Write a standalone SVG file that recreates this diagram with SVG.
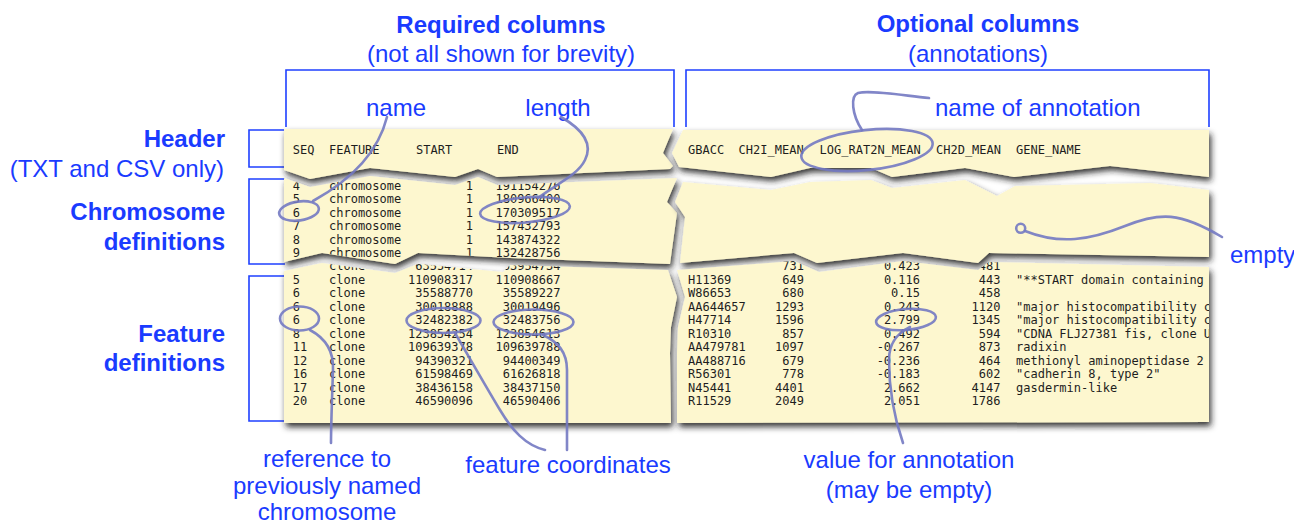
<svg xmlns="http://www.w3.org/2000/svg" xmlns:xlink="http://www.w3.org/1999/xlink" width="1294" height="527" viewBox="0 0 1294 527">
<style>
.lbl{font-family:"Liberation Sans",Arial,sans-serif;font-size:24px;fill:#1a3bff}
.b{font-weight:bold}
.br{fill:none;stroke:#1f40ff;stroke-width:1.6}
.paper{fill:#fdf7cf}
.m{font-family:"DejaVu Sans Mono","Liberation Mono",monospace;font-size:12px;fill:#1e1e1e}
.e{text-anchor:end}
.con{fill:none;stroke:#7379c2;stroke-width:2.6;stroke-linecap:round;stroke-opacity:0.9}
</style>
<defs>
<filter id="sh" x="-5%" y="-20%" width="110%" height="150%">
<feDropShadow dx="2" dy="4" stdDeviation="3" flood-color="#1a1a1a" flood-opacity="0.9"/>
</filter>
<polygon id="pLH" points="284,129 673,129 663,153 673,166 670,169 497,177 478,169 455,177 370,168 310,179 284,170"/>
<polygon id="pLC" points="284,178 310,187 370,176 455,185 478,177 497,185 677,178 667,202 677,213 670,264 510,258 418,253 395,264 322,253 284,262"/>
<polygon id="pLF" points="284,271 322,263 395,273 418,264 503,272 510,265 668,270 677,297 671,327 670,353 671,423 284,423"/>
<polygon id="pRH" points="683,130 1209,130 1209,177 1110,166 1014,177 965,168 892,177 871,168 810,168 771,177 679,167 672,153"/>
<polygon id="pRC" points="683,182 771,190 810,182 871,180 892,188 965,180 997,196 1015,186 1150,183 1209,190 1209,257 989,253 978,263 903,253 817,263 794,253 680,263 685,217 675,202"/>
<polygon id="pRF" points="677,270 794,261 819,272 903,261 978,270 989,262 1209,267 1209,422 677,423 677,353 678,327 685,297"/>
<clipPath id="cLH"><use xlink:href="#pLH"/></clipPath>
<clipPath id="cLC"><use xlink:href="#pLC"/></clipPath>
<clipPath id="cLF"><use xlink:href="#pLF"/></clipPath>
<clipPath id="cRH"><use xlink:href="#pRH"/></clipPath>
<clipPath id="cRC"><use xlink:href="#pRC"/></clipPath>
<clipPath id="cRF"><use xlink:href="#pRF"/></clipPath>
</defs>
<rect width="1294" height="527" fill="#fff"/>

<g id="title-required">
<text class="lbl b" x="501" y="32.5" text-anchor="middle">Required columns</text>
<text class="lbl" x="501" y="62" text-anchor="middle">(not all shown for brevity)</text>
<path class="br" d="M286,127 V70 H674 V127"/>
</g>
<g id="title-optional">
<text class="lbl b" x="978" y="32" text-anchor="middle">Optional columns</text>
<text class="lbl" x="978" y="62" text-anchor="middle">(annotations)</text>
<path class="br" d="M686,127 V70 H1209 V127"/>
</g>
<g id="row-header">
<text class="lbl b" x="225" y="146.5" text-anchor="end">Header</text>
<text class="lbl" x="224" y="176.5" text-anchor="end">(TXT and CSV only)</text>
<path class="br" d="M285,130 H249 V167 H285"/>
</g>
<g id="row-chromosome">
<text class="lbl b" x="225" y="220" text-anchor="end">Chromosome</text>
<text class="lbl b" x="225" y="249.5" text-anchor="end">definitions</text>
<path class="br" d="M285,179 H249 V264 H285"/>
</g>
<g id="row-feature">
<text class="lbl b" x="225" y="341.5" text-anchor="end">Feature</text>
<text class="lbl b" x="225" y="370.5" text-anchor="end">definitions</text>
<path class="br" d="M285,276 H249 V421 H285"/>
</g>

<g id="table-left-header">
<use xlink:href="#pLH" class="paper" filter="url(#sh)"/>
<g clip-path="url(#cLH)">
<text class="m" x="292.7" y="154">SEQ</text><text class="m" x="329" y="154">FEATURE</text><text class="m" x="416" y="154">START</text><text class="m" x="497" y="154">END</text>
</g>
</g>
<g id="table-right-header">
<use xlink:href="#pRH" class="paper" filter="url(#sh)"/>
<g clip-path="url(#cRH)">
<text class="m" x="688" y="154">GBACC</text><text class="m" x="738.6" y="154">CH2I_MEAN</text><text class="m" x="819.6" y="154">LOG_RAT2N_MEAN</text><text class="m" x="936" y="154">CH2D_MEAN</text><text class="m" x="1016" y="154">GENE_NAME</text>
</g>
</g>
<g id="table-left-chromosomes">
<use xlink:href="#pLC" class="paper" filter="url(#sh)"/>
<g clip-path="url(#cLC)">
<text class="m" x="292.7" y="189.5">4</text><text class="m" x="329" y="189.5">chromosome</text><text class="m e" x="473" y="189.5">1</text><text class="m e" x="560.5" y="189.5">191154276</text>
<text class="m" x="292.7" y="203">5</text><text class="m" x="329" y="203">chromosome</text><text class="m e" x="473" y="203">1</text><text class="m e" x="560.5" y="203">180966400</text>
<text class="m" x="292.7" y="216.5">6</text><text class="m" x="329" y="216.5">chromosome</text><text class="m e" x="473" y="216.5">1</text><text class="m e" x="560.5" y="216.5">170309517</text>
<text class="m" x="292.7" y="230">7</text><text class="m" x="329" y="230">chromosome</text><text class="m e" x="473" y="230">1</text><text class="m e" x="560.5" y="230">157432793</text>
<text class="m" x="292.7" y="243.5">8</text><text class="m" x="329" y="243.5">chromosome</text><text class="m e" x="473" y="243.5">1</text><text class="m e" x="560.5" y="243.5">143874322</text>
<text class="m" x="292.7" y="257">9</text><text class="m" x="329" y="257">chromosome</text><text class="m e" x="473" y="257">1</text><text class="m e" x="560.5" y="257">132428756</text>
</g>
</g>
<g id="table-right-chromosomes">
<use xlink:href="#pRC" class="paper" filter="url(#sh)"/>
</g>
<g id="table-left-features">
<use xlink:href="#pLF" class="paper" filter="url(#sh)"/>
<g clip-path="url(#cLF)">
<text class="m" x="329" y="269.5">clone</text><text class="m e" x="473" y="269.5">63554714</text><text class="m e" x="560.5" y="269.5">63954734</text>
<text class="m" x="292.7" y="283.5">5</text><text class="m" x="329" y="283.5">clone</text><text class="m e" x="473" y="283.5">110908317</text><text class="m e" x="560.5" y="283.5">110908667</text>
<text class="m" x="292.7" y="297">6</text><text class="m" x="329" y="297">clone</text><text class="m e" x="473" y="297">35588770</text><text class="m e" x="560.5" y="297">35589227</text>
<text class="m" x="292.7" y="310.5">6</text><text class="m" x="329" y="310.5">clone</text><text class="m e" x="473" y="310.5">30018888</text><text class="m e" x="560.5" y="310.5">30019496</text>
<text class="m" x="292.7" y="324">6</text><text class="m" x="329" y="324">clone</text><text class="m e" x="473" y="324">32482382</text><text class="m e" x="560.5" y="324">32483756</text>
<text class="m" x="292.7" y="337.5">8</text><text class="m" x="329" y="337.5">clone</text><text class="m e" x="473" y="337.5">123854254</text><text class="m e" x="560.5" y="337.5">123854613</text>
<text class="m" x="292.7" y="351">11</text><text class="m" x="329" y="351">clone</text><text class="m e" x="473" y="351">109639378</text><text class="m e" x="560.5" y="351">109639788</text>
<text class="m" x="292.7" y="364.5">12</text><text class="m" x="329" y="364.5">clone</text><text class="m e" x="473" y="364.5">94390321</text><text class="m e" x="560.5" y="364.5">94400349</text>
<text class="m" x="292.7" y="378">16</text><text class="m" x="329" y="378">clone</text><text class="m e" x="473" y="378">61598469</text><text class="m e" x="560.5" y="378">61626818</text>
<text class="m" x="292.7" y="391.5">17</text><text class="m" x="329" y="391.5">clone</text><text class="m e" x="473" y="391.5">38436158</text><text class="m e" x="560.5" y="391.5">38437150</text>
<text class="m" x="292.7" y="405">20</text><text class="m" x="329" y="405">clone</text><text class="m e" x="473" y="405">46590096</text><text class="m e" x="560.5" y="405">46590406</text>
</g>
</g>
<g id="table-right-features">
<use xlink:href="#pRF" class="paper" filter="url(#sh)"/>
<g clip-path="url(#cRF)">
<text class="m e" x="804" y="269.5">731</text><text class="m e" x="920" y="269.5">0.423</text><text class="m e" x="1000.5" y="269.5">481</text>
<text class="m" x="688" y="283.5">H11369</text><text class="m e" x="804" y="283.5">649</text><text class="m e" x="920" y="283.5">0.116</text><text class="m e" x="1000.5" y="283.5">443</text><text class="m" x="1016" y="283.5">"**START domain containing</text>
<text class="m" x="688" y="297">W86653</text><text class="m e" x="804" y="297">680</text><text class="m e" x="920" y="297">0.15</text><text class="m e" x="1000.5" y="297">458</text>
<text class="m" x="688" y="310.5">AA644657</text><text class="m e" x="804" y="310.5">1293</text><text class="m e" x="920" y="310.5">0.243</text><text class="m e" x="1000.5" y="310.5">1120</text><text class="m" x="1016" y="310.5">"major histocompatibility c</text>
<text class="m" x="688" y="324">H47714</text><text class="m e" x="804" y="324">1596</text><text class="m e" x="920" y="324">2.799</text><text class="m e" x="1000.5" y="324">1345</text><text class="m" x="1016" y="324">"major histocompatibility c</text>
<text class="m" x="688" y="337.5">R10310</text><text class="m e" x="804" y="337.5">857</text><text class="m e" x="920" y="337.5">0.492</text><text class="m e" x="1000.5" y="337.5">594</text><text class="m" x="1016" y="337.5">"CDNA FLJ27381 fis, clone U</text>
<text class="m" x="688" y="351">AA479781</text><text class="m e" x="804" y="351">1097</text><text class="m e" x="920" y="351">-0.267</text><text class="m e" x="1000.5" y="351">873</text><text class="m" x="1016" y="351">radixin</text>
<text class="m" x="688" y="364.5">AA488716</text><text class="m e" x="804" y="364.5">679</text><text class="m e" x="920" y="364.5">-0.236</text><text class="m e" x="1000.5" y="364.5">464</text><text class="m" x="1016" y="364.5">methionyl aminopeptidase 2</text>
<text class="m" x="688" y="378">R56301</text><text class="m e" x="804" y="378">778</text><text class="m e" x="920" y="378">-0.183</text><text class="m e" x="1000.5" y="378">602</text><text class="m" x="1016" y="378">"cadherin 8, type 2"</text>
<text class="m" x="688" y="391.5">N45441</text><text class="m e" x="804" y="391.5">4401</text><text class="m e" x="920" y="391.5">2.662</text><text class="m e" x="1000.5" y="391.5">4147</text><text class="m" x="1016" y="391.5">gasdermin-like</text>
<text class="m" x="688" y="405">R11529</text><text class="m e" x="804" y="405">2049</text><text class="m e" x="920" y="405">2.051</text><text class="m e" x="1000.5" y="405">1786</text>
</g>
</g>

<g id="labels">
<text class="lbl" x="396" y="116" text-anchor="middle">name</text>
<text class="lbl" x="558" y="116" text-anchor="middle">length</text>
<text class="lbl" x="935" y="116">name of annotation</text>
<text class="lbl" x="1230" y="263">empty</text>
<text class="lbl" x="327" y="467" text-anchor="middle">reference to</text>
<text class="lbl" x="327" y="494" text-anchor="middle">previously named</text>
<text class="lbl" x="327" y="520" text-anchor="middle">chromosome</text>
<text class="lbl" x="568" y="473" text-anchor="middle">feature coordinates</text>
<text class="lbl" x="909" y="468" text-anchor="middle">value for annotation</text>
<text class="lbl" x="909" y="498" text-anchor="middle">(may be empty)</text>
</g>

<g id="connectors">
<ellipse class="con" cx="299" cy="211" rx="20" ry="9.5" transform="rotate(-8 299 211)"/>
<path class="con" d="M387,117 C380,145 360,175 313,201"/>
<ellipse class="con" cx="525" cy="210" rx="45" ry="12.5" transform="rotate(-5 525 210)"/>
<path class="con" d="M561,117 C575,125 595,140 585,160 C578,175 555,185 538,198"/>
<ellipse class="con" cx="867" cy="150" rx="66" ry="20" transform="rotate(-6 867 150)"/>
<path class="con" d="M929,98 C900,95 870,90 858,93 C850,96 852,115 862,130"/>
<circle class="con" cx="1020.7" cy="228.3" r="4.5" fill="#fdf7cf" stroke-width="2.2"/>
<path class="con" d="M1025,231 C1060,245 1090,240 1125,226 C1160,212 1180,212 1222,237"/>
<ellipse class="con" cx="299.5" cy="318.5" rx="19.5" ry="12"/>
<path class="con" d="M310,330 C325,338 334,350 333,370 C332,400 331,425 331,443"/>
<ellipse class="con" cx="443.5" cy="320.5" rx="37" ry="12.5"/>
<path class="con" d="M455,333 C465,350 485,385 500,410 C512,430 525,445 545,450"/>
<ellipse class="con" cx="533.5" cy="322" rx="40" ry="12.5"/>
<path class="con" d="M543,335 C558,342 567,352 567,370 L567,450"/>
<ellipse class="con" cx="906" cy="319.5" rx="30" ry="10.5" transform="rotate(-5 906 319.5)"/>
<path class="con" d="M910,327 C898,333 889,342 889,360 C889,390 895,420 903,443"/>
</g>
</svg>
